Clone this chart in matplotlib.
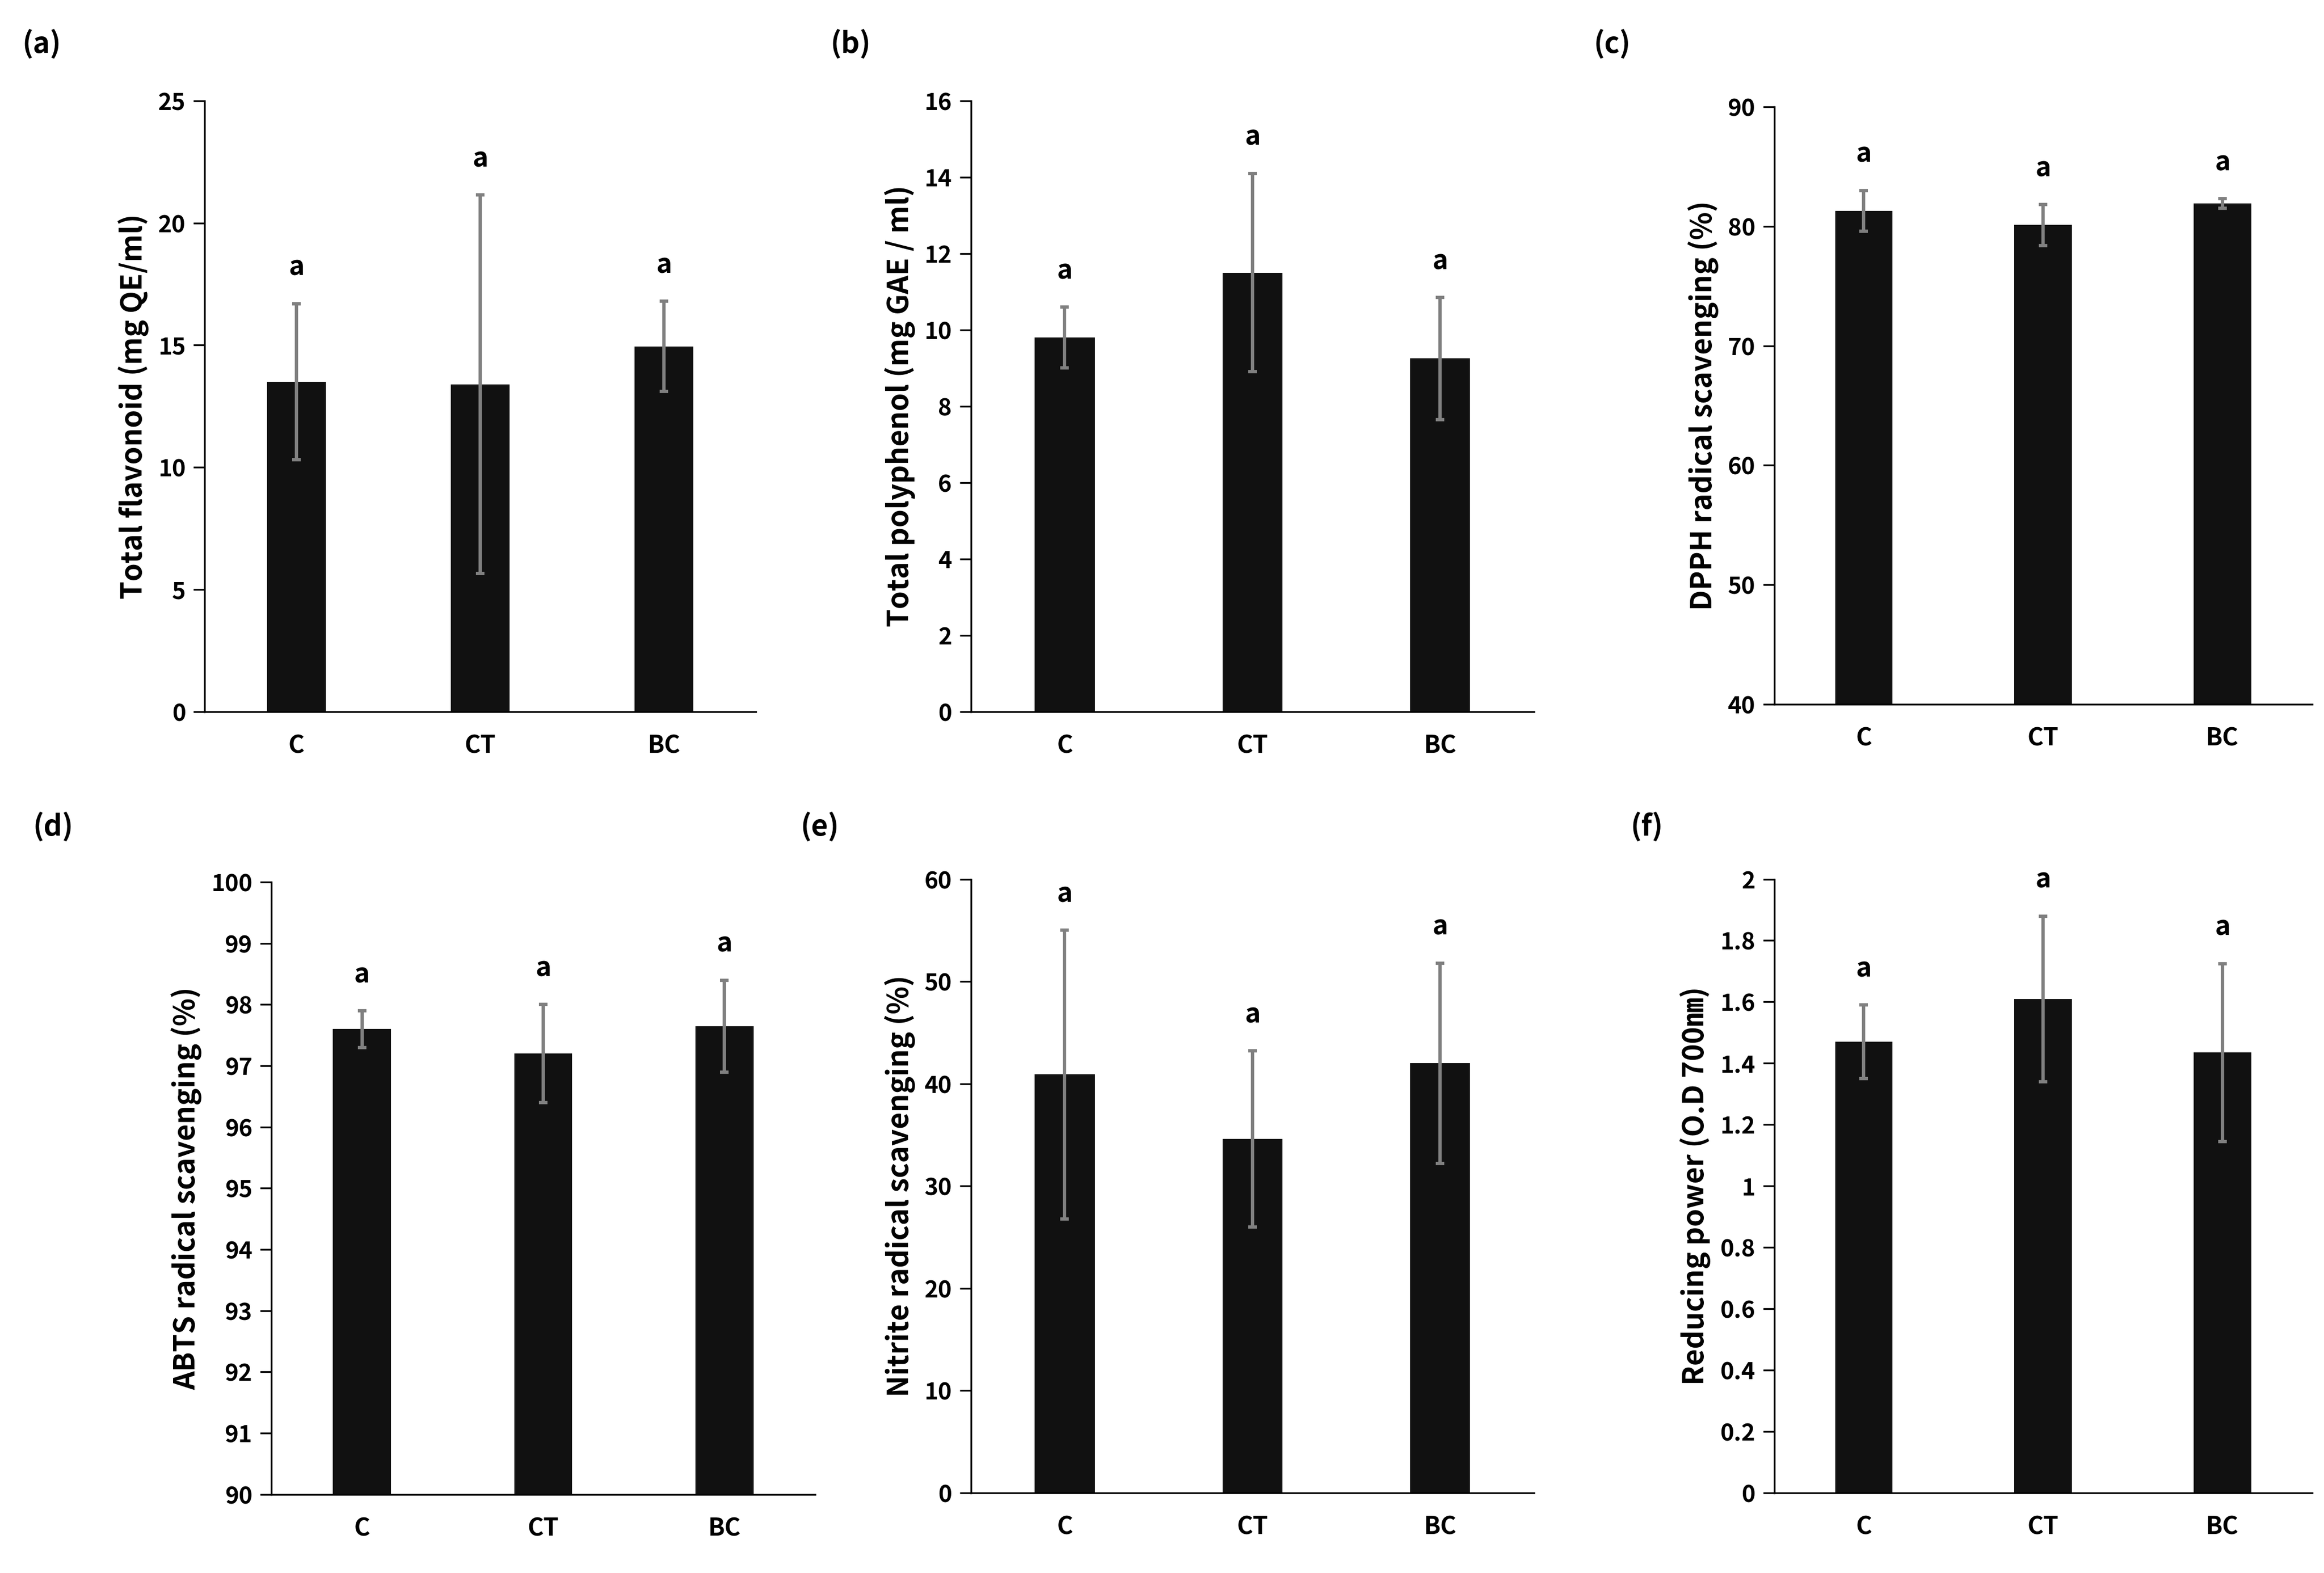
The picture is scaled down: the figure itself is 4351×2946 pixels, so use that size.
import numpy as np
import matplotlib.pyplot as plt
from matplotlib.ticker import FuncFormatter

plt.rcParams['font.family'] = ['Noto Sans CJK KR', 'DejaVu Sans']
plt.rcParams['font.weight'] = 'bold'

groups = ['C', 'CT', 'BC']

flavonoid = [13.5, 13.4, 14.95]
flavonoid_err = [3.2, 7.75, 1.85]
polyphenol = [9.8, 11.5, 9.25]
polyphenol_err = [0.8, 2.6, 1.6]
dpph = [81.3, 80.1, 81.9]
dpph_err = [1.7, 1.7, 0.4]
abts = [97.6, 97.2, 97.65]
abts_err = [0.3, 0.8, 0.75]
nitrite = [40.9, 34.6, 42.0]
nitrite_err = [14.1, 8.6, 9.8]
reducing = [1.47, 1.61, 1.435]
reducing_err = [0.12, 0.27, 0.29]

panels = [
    ('(a)', flavonoid, flavonoid_err, 'Total flavonoid (mg QE/ml)', (0, 25), 5),
    ('(b)', polyphenol, polyphenol_err, 'Total polyphenol (mg GAE / ml)', (0, 16), 2),
    ('(c)', dpph, dpph_err, 'DPPH radical scavenging (%)', (40, 90), 10),
    ('(d)', abts, abts_err, 'ABTS radical scavenging (%)', (90, 100), 1),
    ('(e)', nitrite, nitrite_err, 'Nitrite radical scavenging (%)', (0, 60), 10),
    ('(f)', reducing, reducing_err, 'Reducing power (O.D 700㎚)', (0, 2), 0.2),
]

# axes boxes in figure fractions (left, bottom, width, height)
W, H = 1568, 1061
boxes = [
    (138, 68, 510, 480), (655, 68, 1035, 480), (1197, 72, 1560, 475),
    (183, 595, 550, 1008), (655, 593, 1035, 1007), (1197, 593, 1560, 1007),
]
label_pos = [(15, 30), (560, 30), (1075, 30), (22, 558), (540, 558), (1100, 558)]

fig = plt.figure(figsize=(4351 / 300, 2946 / 300), dpi=300)

for (tag, vals, errs, ylabel, ylim, step), (x0, y0, x1, y1), (lx, ly) in zip(panels, boxes, label_pos):
    ax = fig.add_axes([x0 / W, 1 - y1 / H, (x1 - x0) / W, (y1 - y0) / H])
    x = np.arange(len(groups))
    bot = ylim[0]
    ax.bar(x, np.array(vals) - bot, bottom=bot, width=0.32, color='#111111')
    ax.errorbar(x, vals, yerr=errs, fmt='none', ecolor='#808080', elinewidth=1.5,
                capsize=2, capthick=1.5)
    for xi, v, e in zip(x, vals, errs):
        ax.annotate('a', (xi, v + e), xytext=(0, 10), textcoords='offset points',
                    ha='center', va='bottom', fontsize=12, fontweight='bold')
    ax.set_xlim(-0.5, 2.5)
    ax.set_ylim(*ylim)
    ax.set_yticks(np.arange(ylim[0], ylim[1] + step / 2, step))
    ax.yaxis.set_major_formatter(FuncFormatter(lambda v, p: '%g' % round(v, 2)))
    ax.set_xticks(x)
    ax.set_xticklabels(groups, fontsize=11, fontweight='bold')
    ax.tick_params(axis='x', length=0, pad=10)
    ax.tick_params(axis='y', labelsize=10.5, direction='out', length=5)
    for lab in ax.get_yticklabels():
        lab.set_fontweight('bold')
    ax.spines['top'].set_visible(False)
    ax.spines['right'].set_visible(False)
    ax.set_ylabel(ylabel, fontsize=13, fontweight='bold')
    fig.text(lx / W, 1 - ly / H, tag, fontsize=13, fontweight='bold', va='center')

fig.savefig('out.png', dpi=300)
